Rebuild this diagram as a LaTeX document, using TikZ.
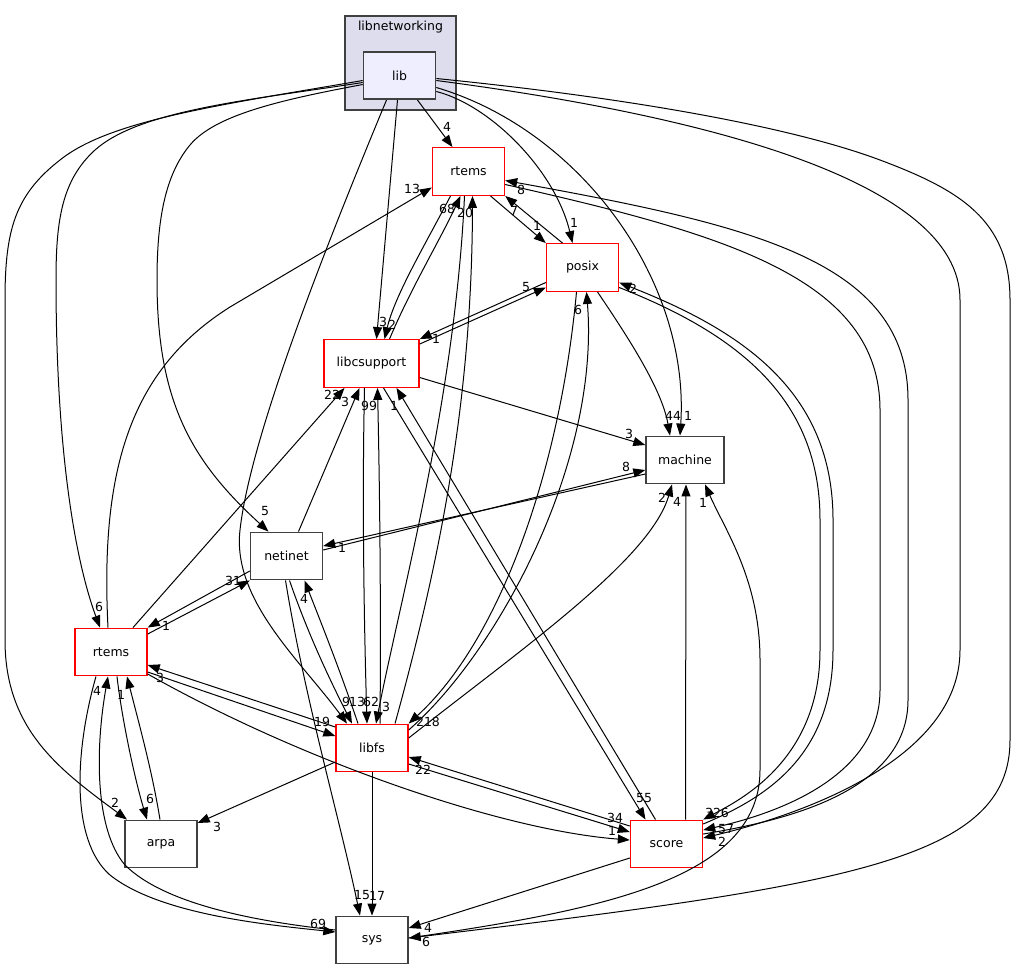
\documentclass[tikz,border=0pt]{standalone}
\usepackage{fontspec}
\setmainfont{DejaVu Sans}
\usetikzlibrary{arrows.meta}

\begin{document}
\begin{tikzpicture}[x=1pt,y=-1pt,>={Triangle[length=12pt,width=9pt]},
	font=\fontsize{12.5}{15}\selectfont,
	dir node/.style={rectangle,fill=white,line width=1.4pt,minimum width=72pt,minimum height=47.5pt,inner sep=1pt},
	red node/.style={dir node,draw=dirred},
	grey node/.style={dir node,draw=dirgrey},
	dep/.style={->,line width=1pt},
	num/.style={inner sep=0pt}]

	\definecolor{clusterfill}{RGB}{221,221,238}
	\definecolor{libfill}{RGB}{238,238,255}
	\definecolor{dirgrey}{RGB}{64,64,64}
	\definecolor{dirred}{RGB}{255,0,0}

	\useasboundingbox (0,0) rectangle (1016,969);

	\node[draw=dirgrey, fill=clusterfill, line width=1.3pt, minimum width=111pt, minimum height=94pt] (libnetworking) at (400.5,63) {};
	\node (libnetworkingname) at (400.5,27) {libnetworking};
	\node[grey node, fill=libfill, line width=1.6pt] (lib) at (399.5,75.5) {lib};
	\node[red node] (rtemsA) at (468.5,171.5) {rtems};
	\node[red node] (posix) at (582.5,267.5) {posix};
	\node[red node, minimum width=95pt] (libcsupport) at (371.5,363.5) {libcsupport};
	\node[grey node, minimum width=78pt] (machine) at (685,460) {machine};
	\node[grey node] (netinet) at (286.5,556) {netinet};
	\node[red node] (rtemsB) at (111,652) {rtems};
	\node[red node] (libfs) at (372,748) {libfs};
	\node[red node] (score) at (666.5,844) {score};
	\node[grey node] (arpa) at (161,844) {arpa};
	\node[grey node] (sys) at (372,940) {sys};

	\draw[dep] ([xshift=18pt]lib.south) -- ([xshift=-16pt]rtemsA.north) node[num] at (447,127) {4};
	\draw[dep] ([xshift=-2pt]lib.south) -- ([xshift=5pt]libcsupport.north) node[num] at (383,322) {3};
	\draw[dep] ([yshift=-16pt]lib.east) .. controls (490,105) and (555,170) .. ([xshift=-10pt]posix.north) node[num] at (574,223) {1};
	\draw[dep] ([yshift=-12pt]lib.east) .. controls (580,130) and (690,280) .. ([xshift=-5pt]machine.north) node[num] at (688,416) {1};
	\draw[dep] ([yshift=-9pt]lib.west) .. controls (280,100) and (215,115) .. (190,145) .. controls (165,175) and (157,220) .. (157,280) .. controls (157,400) and (190,460) .. ([xshift=-18pt]netinet.north) node[num] at (265,511) {5};
	\draw[dep] ([yshift=-7pt]lib.west) .. controls (250,100) and (140,110) .. (95,150) .. controls (62,180) and (56,220) .. (56,280) .. controls (56,450) and (75,560) .. ([xshift=-11pt]rtemsB.north) node[num] at (99,607) {6};
	\draw[dep] ([yshift=-5pt]lib.west) .. controls (220,105) and (110,120) .. (60,160) .. controls (15,195) and (5,230) .. (5,300) -- (5,640) .. controls (5,730) and (60,770) .. ([xshift=-34pt]arpa.north) node[num] at (115,803) {2};
	\draw[dep] ([xshift=-13pt]lib.south) .. controls (320,260) and (250,440) .. (240,530) .. controls (232,600) and (300,660) .. ([xshift=-25pt]libfs.north) node[num] at (346,702) {9};
	\draw[dep] ([yshift=-5pt]lib.east) .. controls (700,115) and (960,180) .. (960,300) -- (960,650) .. controls (960,760) and (800,815) .. ([yshift=6pt]score.east) node[num] at (722,842) {2};
	\draw[dep] ([yshift=-3pt]lib.east) .. controls (650,100) and (800,130) .. (880,160) .. controls (960,190) and (1010,220) .. (1010,300) -- (1010,740) .. controls (1010,860) and (850,885) .. ([yshift=2pt]sys.east) node[num] at (426,942) {6};

	\draw[dep] ([xshift=-18pt]rtemsA.south) .. controls (425,245) and (395,295) .. ([xshift=13pt]libcsupport.north) node[num] at (392,325) {2};
	\draw[dep] ([xshift=22pt]rtemsA.south) -- (posix.north west) node[num] at (537,226) {1};
	\draw[dep] ([xshift=-4pt]rtemsA.south) .. controls (455,400) and (400,600) .. ([xshift=4pt]libfs.north) node[num] at (386,707) {3};
	\draw[dep] ([yshift=-13pt]rtemsA.east) .. controls (730,235) and (880,280) .. (880,410) -- (880,690) .. controls (880,780) and (770,815) .. ([yshift=14pt]score.east) node[num] at (726,829) {57};

	\draw[dep] ([xshift=-20pt]posix.north) -- (rtemsA.south east) node[num] at (514,211) {7};
	\draw[dep] ([yshift=-15pt]posix.west) -- (libcsupport.north east) node[num] at (436,339) {1};
	\draw[dep] ([xshift=15pt]posix.south) .. controls (630,340) and (662,390) .. ([xshift=-15pt]machine.north) node[num] at (673,416) {44};
	\draw[dep] ([xshift=-6pt]posix.south) .. controls (560,470) and (500,640) .. (libfs.north east) node[num] at (428,722) {218};
	\draw[dep] ([yshift=-20pt]posix.east) .. controls (740,335) and (820,400) .. (820,520) -- (820,650) .. controls (820,760) and (740,800) .. (score.north east) node[num] at (717,813) {326};

	\draw[dep] ([xshift=18pt]libcsupport.north) .. controls (410,290) and (440,240) .. ([xshift=-8pt]rtemsA.south) node[num] at (447,209) {68};
	\draw[dep] ([yshift=-5pt]libcsupport.north east) -- ([yshift=-20pt]posix.west) node[num] at (526,287) {5};
	\draw[dep] ([yshift=-14pt]libcsupport.east) -- ([yshift=15pt]machine.west) node[num] at (629,434) {3};
	\draw[dep] ([xshift=-7pt]libcsupport.south) .. controls (362,500) and (364,620) .. ([xshift=-5pt]libfs.north) node[num] at (371,702) {62};
	\draw[dep] ([xshift=12pt]libcsupport.south) -- ([xshift=-21pt]score.north) node[num] at (644,798) {55};

	\draw[dep] ([yshift=-14pt]machine.west) -- ([yshift=10pt]netinet.east) node[num] at (342,548) {1};

	\draw[dep] ([xshift=12pt]netinet.north) -- ([xshift=-12pt]libcsupport.south) node[num] at (345,402) {3};
	\draw[dep] ([yshift=6pt]netinet.east) -- ([yshift=-10pt]machine.west) node[num] at (626,467) {8};
	\draw[dep] ([yshift=-15pt]netinet.west) -- (rtemsB.north east) node[num] at (166,626) {1};
	\draw[dep] ([xshift=3pt]netinet.south) .. controls (310,640) and (335,690) .. ([xshift=-20pt]libfs.north) node[num] at (357,702) {13};
	\draw[dep] ([xshift=-1pt]netinet.south) .. controls (305,700) and (340,820) .. ([xshift=-12pt]sys.north) node[num] at (362,895) {15};

	\draw[dep] ([xshift=-3pt]rtemsB.north) .. controls (100,470) and (130,370) .. (230,307) -- ([yshift=-16pt]rtemsA.west) node[num] at (412,189) {13};
	\draw[dep] ([xshift=22pt]rtemsB.north) -- ([xshift=-27pt]libcsupport.south) node[num] at (332,395) {22};
	\draw[dep] ([yshift=18pt]rtemsB.east) -- (netinet.south west) node[num] at (233,581) {31};
	\draw[dep] ([yshift=-20pt]rtemsB.east) -- ([yshift=12pt]libfs.west) node[num] at (322,722) {19};
	\draw[dep] ([yshift=-22pt]rtemsB.east) .. controls (300,760) and (500,830) .. ([yshift=4pt]score.west) node[num] at (612,831) {1};
	\draw[dep] ([xshift=6pt]rtemsB.south) .. controls (122,720) and (135,780) .. ([xshift=-14pt]arpa.north) node[num] at (150,799) {6};
	\draw[dep] ([xshift=-15pt]rtemsB.south) .. controls (75,750) and (70,840) .. (110,875) .. controls (160,915) and (270,925) .. ([yshift=8pt]sys.west) node[num] at (318,924) {69};

	\draw[dep] ([xshift=23pt]libfs.north) .. controls (440,560) and (472,400) .. ([xshift=4pt]rtemsA.south) node[num] at (465,213) {20};
	\draw[dep] ([xshift=8pt]libfs.north) .. controls (381,620) and (380,500) .. ([xshift=6pt]libcsupport.south) node[num] at (369,406) {99};
	\draw[dep] ([yshift=18pt]libfs.east) .. controls (500,650) and (600,460) .. ([xshift=4pt]posix.south) node[num] at (578,310) {6};
	\draw[dep] ([yshift=10pt]libfs.east) .. controls (520,650) and (650,560) .. ([xshift=-13pt]machine.south) node[num] at (662,498) {2};
	\draw[dep] ([xshift=-14pt]libfs.north) .. controls (340,670) and (320,620) .. ([xshift=18pt]netinet.south) node[num] at (304,599) {4};
	\draw[dep] ([yshift=21pt]libfs.west) -- ([yshift=-13pt]rtemsB.east) node[num] at (160,678) {3};
	\draw[dep] ([yshift=-14pt]libfs.west) -- ([yshift=21pt]arpa.east) node[num] at (217,827) {3};
	\draw[dep] (libfs.south) -- (sys.north) node[num] at (377,896) {17};
	\draw[dep] ([yshift=-16pt]libfs.east) -- ([yshift=12pt]score.west) node[num] at (615,818) {34};

	\draw[dep] ([yshift=10pt]score.east) .. controls (790,820) and (908,790) .. (908,700) -- (908,400) .. controls (908,260) and (750,225) .. ([yshift=-9pt]rtemsA.east) node[num] at (521,190) {8};
	\draw[dep] ([yshift=20pt]score.east) .. controls (760,800) and (833,760) .. (833,650) -- (833,520) .. controls (833,390) and (740,330) .. ([yshift=-15pt]posix.east) node[num] at (633,289) {2};
	\draw[dep] ([xshift=-11pt]score.north) -- ([xshift=25pt]libcsupport.south) node[num] at (394,406) {1};
	\draw[dep] ([xshift=19pt]score.north) -- ([xshift=1pt]machine.south) node[num] at (677,502) {4};
	\draw[dep] ([yshift=18pt]score.west) -- ([yshift=-9pt]libfs.east) node[num] at (423,770) {22};
	\draw[dep] ([yshift=-14pt]score.west) -- ([yshift=12pt]sys.east) node[num] at (428,928) {4};

	\draw[dep] ([xshift=-1pt]arpa.north) .. controls (152,770) and (138,720) .. ([xshift=16pt]rtemsB.south) node[num] at (121,695) {1};

	\draw[dep] ([yshift=10pt]sys.west) .. controls (260,922) and (165,905) .. (125,865) .. controls (95,830) and (95,750) .. ([xshift=-3pt]rtemsB.south) node[num] at (97,691) {4};
	\draw[dep] ([yshift=2pt]sys.east) .. controls (600,910) and (760,880) .. (760,770) -- (760,660) .. controls (760,580) and (725,530) .. ([xshift=20pt]machine.south) node[num] at (703,503) {1};
\end{tikzpicture}
\end{document}
